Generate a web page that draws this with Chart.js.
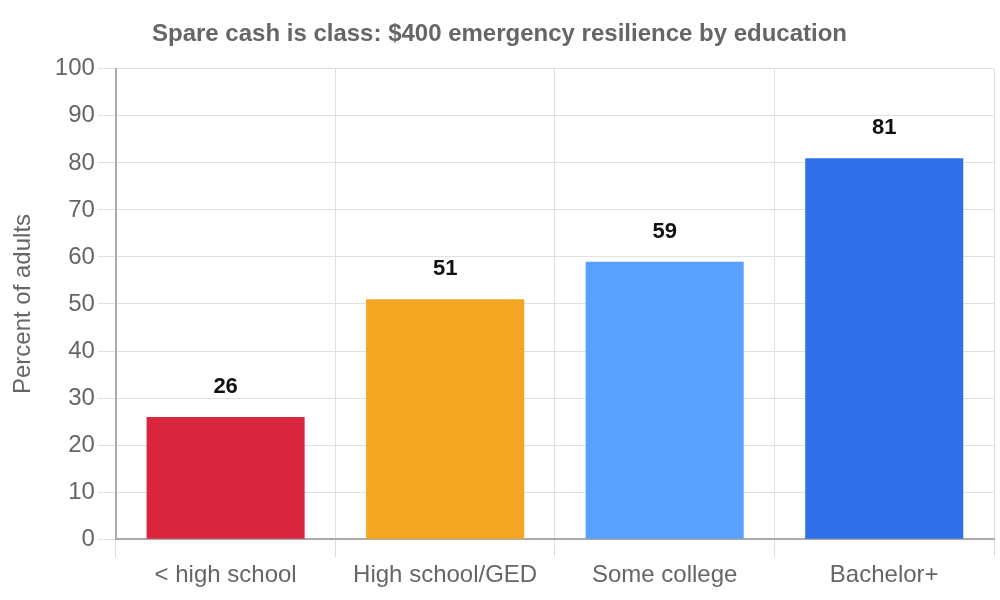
<!DOCTYPE html>
<html>
<head>
<meta charset="utf-8">
<script src="https://cdn.jsdelivr.net/npm/chart.js@4"></script>
<style>
  html, body { margin: 0; padding: 0; background: #fff; }
  #wrap { width: 1000px; height: 600px; }
</style>
</head>
<body>
<div id="wrap"><canvas id="c"></canvas></div>
<script>
const categories = ["< high school", "High school/GED", "Some college", "Bachelor+"];
const percentAdults = [26, 51, 59, 81];
const barColors = ["#d7263d", "#f4a623", "#5aa0ff", "#2f6fe8"];

// draws value above each bar
const valueLabels = {
    id: "valueLabels",
    afterDatasetsDraw(chart) {
        const ctx = chart.ctx;
        const meta = chart.getDatasetMeta(0);
        ctx.save();
        ctx.font = "bold 22px 'Liberation Sans', Arial, sans-serif";
        ctx.fillStyle = "#111";
        ctx.textAlign = "center";
        ctx.textBaseline = "middle";
        meta.data.forEach((bar, i) => {
            ctx.fillText(percentAdults[i], bar.x, bar.y - 30);
        });
        ctx.restore();
    }
};

Chart.defaults.font.family = "'Liberation Sans', Arial, sans-serif";
Chart.defaults.color = "#666";

new Chart(document.getElementById("c"), {
    type: "bar",
    data: {
        labels: categories,
        datasets: [{
            label: "Percent of adults",
            data: percentAdults,
            backgroundColor: barColors
        }]
    },
    options: {
        responsive: true,
        maintainAspectRatio: false,
        animation: false,
        layout: { padding: { right: 6, left: 5, bottom: 6 } },
        plugins: {
            legend: { display: false },
            tooltip: { enabled: false },
            title: {
                display: true,
                text: "Spare cash is class: $400 emergency resilience by education",
                font: { size: 24, weight: "bold" },
                color: "#666",
                padding: { top: 20, bottom: 20 }
            }
        },
        scales: {
            x: {
                grid: { color: "#e0e0e0", tickLength: 18, tickColor: "#ddd" },
                border: { color: "#aaa", width: 2 },
                ticks: { font: { size: 24 }, color: "#666", padding: 4 }
            },
            y: {
                min: 0,
                max: 100,
                grid: { color: "#e0e0e0", tickLength: 18 },
                border: { color: "#aaa", width: 2 },
                ticks: { stepSize: 10, font: { size: 24 }, color: "#666", padding: 3 },
                title: {
                    display: true,
                    text: "Percent of adults",
                    font: { size: 24 },
                    color: "#666",
                    padding: { top: 4, bottom: 14 }
                }
            }
        }
    },
    plugins: [valueLabels]
});
</script>
</body>
</html>
